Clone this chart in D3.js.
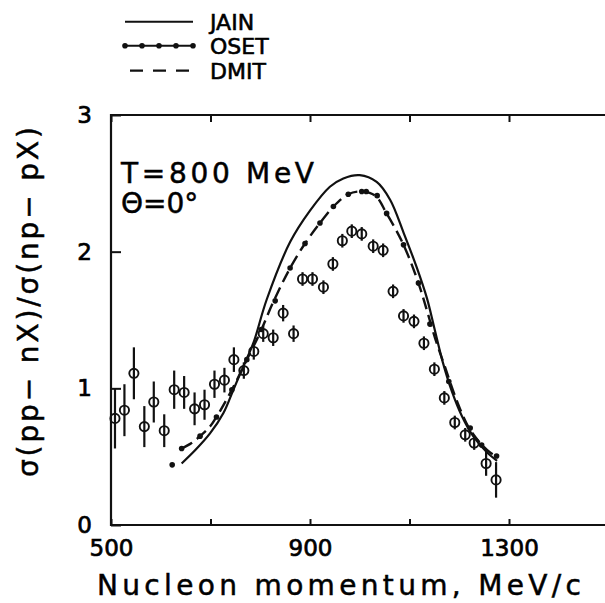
<!DOCTYPE html>
<html><head><meta charset="utf-8">
<script src="https://cdn.jsdelivr.net/npm/d3@7"></script>
<style>
html,body{margin:0;padding:0;background:#fff;}
svg text{font-family:"DejaVu Sans",sans-serif;fill:#000;}
</style></head>
<body><svg id="c" width="605" height="603"></svg>
<script>
// ---- data ----
const seriesNames = ["JAIN","OSET","DMIT"];
const expX = [508,527,546,567,586,607,627,647,668,688,708,728,747,767,787,806,826,846,867,885,905,927,946,965,984,1004,1027,1047,1067,1088,1109,1129,1150,1170,1191,1212,1230,1254,1274];
const expY = [0.78,0.84,1.11,0.72,0.90,0.69,0.99,0.97,0.85,0.88,1.03,1.06,1.21,1.13,1.27,1.40,1.37,1.55,1.40,1.80,1.80,1.74,1.91,2.08,2.15,2.13,2.04,2.01,1.71,1.53,1.49,1.33,1.14,0.93,0.75,0.66,0.60,0.45,0.33];
const expErr = [0.22,0.19,0.19,0.15,0.15,0.12,0.14,0.12,0.12,0.11,0.10,0.09,0.09,0.06,0.06,0.06,0.06,0.06,0.06,0.05,0.05,0.05,0.05,0.05,0.05,0.05,0.05,0.05,0.05,0.05,0.05,0.05,0.05,0.05,0.05,0.05,0.05,0.09,0.13];
const jainX = [642,670,699,726,746,766,786,813,860,900,940,967,1000,1034,1061,1088,1114,1135,1150,1167,1185,1205,1228,1256,1276];
const jainY = [0.45,0.55,0.67,0.82,0.99,1.16,1.33,1.65,2.07,2.30,2.475,2.536,2.56,2.51,2.38,2.14,1.89,1.66,1.44,1.19,0.98,0.80,0.65,0.53,0.47];
const osetX = [623,642,679,712,743,773,802,830,860,890,920,947,977,1004,1013,1035,1054,1088,1118,1141,1179,1222,1245,1275];
const osetY = [0.44,0.56,0.65,0.79,0.99,1.21,1.43,1.64,1.88,2.06,2.21,2.33,2.42,2.44,2.44,2.41,2.28,2.05,1.77,1.47,1.05,0.71,0.585,0.505];
const dmitX = [642,662,679,699,712,743,773,800,826,860,890,920,947,977,1004,1031,1054,1088,1118,1135,1152,1171,1195,1218,1242,1262,1276];
const dmitY = [0.56,0.60,0.65,0.72,0.79,0.99,1.21,1.41,1.63,1.88,2.06,2.21,2.33,2.42,2.44,2.41,2.28,2.05,1.77,1.57,1.36,1.16,0.91,0.72,0.60,0.53,0.50];
const xTicks = [500,700,900,1100,1300,1500];
const xTickLabels = ["500","","900","","1300",""];
const yTicks = [0,1,2,3];
const yTickLabels = ["0","1","2","3"];
const xTitle = "Nucleon  momentum,  MeV/c";
const yTitle = "σ(pp−  nX)/σ(np−  pX)";
const annot1 = "T=800  MeV";
const annot2 = "Θ=0°";

// ---- drawing ----
const svg = d3.select("#c");
svg.append("rect").attr("width",605).attr("height",603).attr("fill","#fff");
const x = d3.scaleLinear().domain([500,1500]).range([111,608.5]);
const y = d3.scaleLinear().domain([0,3]).range([525,115]);
const ink = "#111";
const txtStroke = (g,w=0.5) => g.attr("stroke","#000").attr("stroke-width",w);

// frame
svg.append("path").attr("fill","none").attr("stroke",ink).attr("stroke-width",2.2)
  .attr("d",`M${x(1500)},${y(3)}H${x(500)}V${y(0)}H${x(1500)}`);

// bottom axis
const gx = svg.append("g").attr("transform",`translate(0,${y(0)})`)
  .call(d3.axisBottom(x).tickValues(xTicks).tickSizeInner(-6).tickSizeOuter(0).tickPadding(15)
    .tickFormat((d,i)=>xTickLabels[i]));
gx.select(".domain").remove();
gx.selectAll("line").attr("stroke",ink).attr("stroke-width",2);
gx.selectAll("text").attr("font-size",23).attr("font-family","DejaVu Sans").call(txtStroke,0.7);

// top ticks
const gt = svg.append("g").attr("transform",`translate(0,${y(3)})`)
  .call(d3.axisTop(x).tickValues(xTicks).tickSizeInner(-7).tickSizeOuter(0).tickFormat(""));
gt.select(".domain").remove();
gt.selectAll("line").attr("stroke",ink).attr("stroke-width",2);

// left axis
const gy = svg.append("g").attr("transform",`translate(${x(500)},0)`)
  .call(d3.axisLeft(y).tickValues(yTicks).tickSizeInner(-10).tickSizeOuter(0).tickPadding(19)
    .tickFormat((d,i)=>yTickLabels[i]));
gy.select(".domain").remove();
gy.selectAll("line").attr("stroke",ink).attr("stroke-width",2);
gy.selectAll("text").attr("font-size",23).attr("font-family","DejaVu Sans").call(txtStroke,0.7);

// titles
svg.append("text").attr("x",339).attr("y",595).attr("text-anchor","middle")
  .attr("font-size",28).attr("textLength",484).attr("lengthAdjust","spacing").text(xTitle).call(txtStroke,0.5);
svg.append("text").attr("transform","translate(38,302) rotate(-90)").attr("text-anchor","middle")
  .attr("font-size",28).attr("textLength",350).attr("lengthAdjust","spacing").text(yTitle).call(txtStroke,0.5);

// annotation
svg.append("text").attr("x",121).attr("y",183).attr("font-size",28)
  .attr("textLength",193).attr("lengthAdjust","spacing").text(annot1).call(txtStroke,0.5);
svg.append("text").attr("x",121).attr("y",213).attr("font-size",28).text(annot2).call(txtStroke,0.5);

// curves
const jain = jainX.map((v,i)=>[v,jainY[i]]);
const oset = osetX.map((v,i)=>[v,osetY[i]]);
const dmit = dmitX.map((v,i)=>[v,dmitY[i]]);
const line = d3.line().x(d=>x(d[0])).y(d=>y(d[1])).curve(d3.curveCatmullRom.alpha(0.5));

svg.append("path").datum(jain).attr("d",line).attr("fill","none").attr("stroke",ink).attr("stroke-width",2.2);
svg.append("path").datum(dmit).attr("d",line).attr("fill","none").attr("stroke",ink).attr("stroke-width",2.4)
  .attr("stroke-dasharray","12,6");
svg.append("g").selectAll("circle").data(oset).join("circle")
  .attr("cx",d=>x(d[0])).attr("cy",d=>y(d[1])).attr("r",2.8).attr("fill",ink);

// data points with error bars
const exp = expX.map((v,i)=>({x:v,y:expY[i],e:expErr[i]}));
const gp = svg.append("g");
gp.selectAll("line").data(exp).join("line")
  .attr("x1",d=>x(d.x)).attr("x2",d=>x(d.x))
  .attr("y1",d=>y(d.y+d.e)).attr("y2",d=>y(d.y-d.e))
  .attr("stroke",ink).attr("stroke-width",2.2);
gp.selectAll("circle").data(exp).join("circle")
  .attr("cx",d=>x(d.x)).attr("cy",d=>y(d.y)).attr("r",4.6)
  .attr("fill","none").attr("stroke",ink).attr("stroke-width",1.9);

// legend
const lg = svg.append("g");
const legY = [21.7,45.7,70.7];
const lx0 = 125, lx1 = 193;
lg.append("line").attr("x1",lx0).attr("x2",lx1).attr("y1",legY[0]).attr("y2",legY[0]).attr("stroke",ink).attr("stroke-width",2);
lg.append("line").attr("x1",lx0).attr("x2",lx1).attr("y1",legY[1]).attr("y2",legY[1]).attr("stroke",ink).attr("stroke-width",2);
lg.selectAll("circle").data(d3.range(5)).join("circle")
  .attr("cx",d=>lx0+d*(lx1-lx0)/4).attr("cy",legY[1]).attr("r",2.8).attr("fill",ink);
lg.append("line").attr("x1",lx0+5).attr("x2",lx1).attr("y1",legY[2]).attr("y2",legY[2]).attr("stroke",ink).attr("stroke-width",2.2)
  .attr("stroke-dasharray","13,10");
lg.selectAll("text").data(seriesNames).join("text")
  .attr("x",210).attr("y",(d,i)=>legY[i]+8).attr("font-size",22).text(d=>d).call(txtStroke,0.6);
</script></body></html>
